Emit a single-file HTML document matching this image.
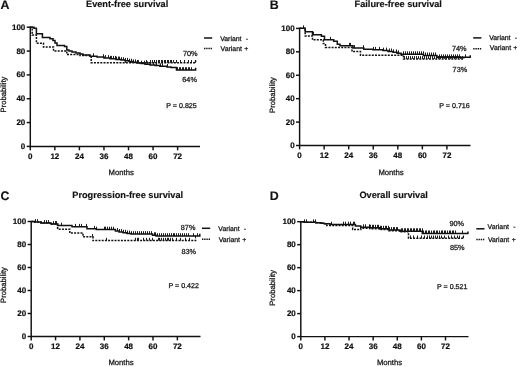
<!DOCTYPE html>
<html><head><meta charset="utf-8"><style>
html,body{margin:0;padding:0;background:#fff;overflow:hidden;width:520px;height:367px;}
svg{display:block;filter:grayscale(1);}
text{font-family:"Liberation Sans", sans-serif;fill:#111;text-rendering:geometricPrecision;}
.tk{font-weight:bold;font-size:8px;stroke:#111;stroke-width:0.2px;}
.let{font-weight:bold;font-size:12.4px;stroke:#111;stroke-width:0.15px;}
.ti{font-weight:bold;font-size:9.2px;stroke:#111;stroke-width:0.15px;}
.lb{font-size:7.7px;fill:#1a1a1a;stroke:#1a1a1a;stroke-width:0.28px;}
.lg{font-size:6.9px;fill:#1a1a1a;stroke:#1a1a1a;stroke-width:0.28px;}
.pv{font-size:7.1px;}
.pc{font-size:7.3px;}
.ax{stroke:#111;stroke-width:1.45;fill:none;}
.cs{stroke:#111;stroke-width:1.5;fill:none;}
.cd{stroke:#111;stroke-width:1.5;fill:none;stroke-dasharray:2 1.2;}
.cd2{stroke:#111;stroke-width:1.4;fill:none;stroke-dasharray:1.4 0.8;}
.tick{stroke:#111;stroke-width:0.95;fill:none;}
</style></head><body>
<svg width="520" height="367" viewBox="0 0 520 367">
<rect width="520" height="367" fill="#fff"/>
<path d="M30.3 26.6V146.4H200" class="ax"/>
<path d="M26.7 146.4H30.3" class="ax"/>
<text x="25.3" y="148.9" class="tk" text-anchor="end">0</text>
<path d="M26.7 122.56H30.3" class="ax"/>
<text x="25.3" y="125.06" class="tk" text-anchor="end">20</text>
<path d="M26.7 98.72H30.3" class="ax"/>
<text x="25.3" y="101.22" class="tk" text-anchor="end">40</text>
<path d="M26.7 74.88H30.3" class="ax"/>
<text x="25.3" y="77.38" class="tk" text-anchor="end">60</text>
<path d="M26.7 51.04H30.3" class="ax"/>
<text x="25.3" y="53.54" class="tk" text-anchor="end">80</text>
<path d="M26.7 27.2H30.3" class="ax"/>
<text x="25.3" y="29.7" class="tk" text-anchor="end">100</text>
<path d="M30.3 146.4V150.3" class="ax"/>
<text x="30.3" y="158.7" class="tk" text-anchor="middle">0</text>
<path d="M54.85 146.4V150.3" class="ax"/>
<text x="54.85" y="158.7" class="tk" text-anchor="middle">12</text>
<path d="M79.4 146.4V150.3" class="ax"/>
<text x="79.4" y="158.7" class="tk" text-anchor="middle">24</text>
<path d="M103.96 146.4V150.3" class="ax"/>
<text x="103.96" y="158.7" class="tk" text-anchor="middle">36</text>
<path d="M128.51 146.4V150.3" class="ax"/>
<text x="128.51" y="158.7" class="tk" text-anchor="middle">48</text>
<path d="M153.06 146.4V150.3" class="ax"/>
<text x="153.06" y="158.7" class="tk" text-anchor="middle">60</text>
<path d="M177.61 146.4V150.3" class="ax"/>
<text x="177.61" y="158.7" class="tk" text-anchor="middle">72</text>
<text x="0.5" y="8.8" class="let">A</text>
<text x="86" y="6.9" class="ti">Event-free survival</text>
<text x="108.6" y="175" class="lb">Months</text>
<text transform="translate(6 112.5) rotate(-90)" x="0" y="0" class="lb">Probability</text>
<path d="M204 38h8.2" class="cs"/>
<path d="M204 48.5h8.2" class="cd2"/>
<text x="220.2" y="40.8" class="lg">Variant</text>
<text x="220.6" y="50.9" class="lg">Variant</text>
<text x="247" y="40.8" class="lg" text-anchor="middle">-</text>
<text x="246.3" y="50.9" class="lg" text-anchor="middle">+</text>
<text x="166.3" y="107.7" class="lg pv">P = 0.825</text>
<text x="182.9" y="55.9" class="lg pc">70%</text>
<text x="182.3" y="82" class="lg pc">64%</text>
<path d="M30.3 27.2 34 27.2 34 28.2 36.4 28.2 36.4 33.7 42.4 33.7 42.4 37.6 50 37.6 50 38.8 53 38.8 53 40.5 55 40.5 55 43 57 43 57 45.5 64.5 45.5 64.5 46.5 66.8 46.5 66.8 50 69 50 69 51 72 51 72 52 76 52 76 53 80 53 80 54 83 54 83 55 90 55 90 56.2 97 56.2 97 57.1 104 57.1 104 58 110 58 110 58.8 116 58.8 116 59.5 121 59.5 121 60.1 125 60.1 125 60.8 129 60.8 129 61.6 133 61.6 133 62.3 137 62.3 137 63 141 63 141 63.6 145 63.6 145 64.3 150 64.3 150 65 155 65 155 65.6 160 65.6 160 66.2 167 66.2 167 66.9 171 66.9 171 67.6 176.5 67.6 176.5 70.1 195.6 70.1 195.6 67.8" class="cs"/>
<path d="M30.3 27.2 32.2 27.2 32.2 35 36.4 35 36.4 43.2 43.5 43.2 43.5 47 53.5 47 53.5 51 66.8 51 66.8 54.5 80 54.5 80 55.5 91.2 55.5 91.2 62.8 195.6 62.8 195.6 60.6" class="cd"/>
<path d="M93.5 56.2v-2.9M103.5 57.1v-2.9M105.5 58v-2.9M108.5 58v-2.9M110.5 58.8v-2.9M111.5 58.8v-2.9M113.5 58.8v-2.9M115.5 58.8v-2.9M116.5 59.5v-2.9M118.5 59.5v-2.9M119.5 59.5v-2.9M121.5 60.1v-2.9M123.5 60.1v-2.9M125.5 60.8v-2.9M127.5 60.8v-2.9M129.5 61.6v-2.9M131.5 61.6v-2.9M133.5 62.3v-2.9M135.5 62.3v-2.9M138.5 63v-2.9M141.5 63.6v-2.9M144.5 63.6v-2.9M147.5 64.3v-2.9M150.5 65v-2.9M153.5 65v-2.9M156.5 65.6v-2.9M160.5 66.2v-2.9M162.5 66.2v-2.9M167.5 66.9v-2.9M177.5 70.1v-2.9M179.5 70.1v-2.9M180.5 70.1v-2.9M182.5 70.1v-2.9M183.5 70.1v-2.9M185.5 70.1v-2.9M186.5 70.1v-2.9M188.5 70.1v-2.9M189.5 70.1v-2.9M191.5 70.1v-2.9" class="tick"/>
<path d="M125.5 62.8v-2.8M131.5 62.8v-2.8M137.5 62.8v-2.8M146.5 62.8v-2.8M150.5 62.8v-2.8M152.5 62.8v-2.8M154.5 62.8v-2.8M156.5 62.8v-2.8M158.5 62.8v-2.8M159.5 62.8v-2.8M161.5 62.8v-2.8M162.5 62.8v-2.8M164.5 62.8v-2.8M165.5 62.8v-2.8M167.5 62.8v-2.8M168.5 62.8v-2.8M170.5 62.8v-2.8M171.5 62.8v-2.8M173.5 62.8v-2.8M176.5 62.8v-2.8M180.5 62.8v-2.8M184.5 62.8v-2.8M188.5 62.8v-2.8M191.5 62.8v-2.8M195.5 62.8v-2.8" class="tick"/>
<path d="M299.6 27.8V145.5H470.5" class="ax"/>
<path d="M296 145.5H299.6" class="ax"/>
<text x="294.6" y="148" class="tk" text-anchor="end">0</text>
<path d="M296 122.08H299.6" class="ax"/>
<text x="294.6" y="124.58" class="tk" text-anchor="end">20</text>
<path d="M296 98.66H299.6" class="ax"/>
<text x="294.6" y="101.16" class="tk" text-anchor="end">40</text>
<path d="M296 75.24H299.6" class="ax"/>
<text x="294.6" y="77.74" class="tk" text-anchor="end">60</text>
<path d="M296 51.82H299.6" class="ax"/>
<text x="294.6" y="54.32" class="tk" text-anchor="end">80</text>
<path d="M296 28.4H299.6" class="ax"/>
<text x="294.6" y="30.9" class="tk" text-anchor="end">100</text>
<path d="M299.6 145.5V149.4" class="ax"/>
<text x="299.6" y="157.8" class="tk" text-anchor="middle">0</text>
<path d="M324.15 145.5V149.4" class="ax"/>
<text x="324.15" y="157.8" class="tk" text-anchor="middle">12</text>
<path d="M348.7 145.5V149.4" class="ax"/>
<text x="348.7" y="157.8" class="tk" text-anchor="middle">24</text>
<path d="M373.26 145.5V149.4" class="ax"/>
<text x="373.26" y="157.8" class="tk" text-anchor="middle">36</text>
<path d="M397.81 145.5V149.4" class="ax"/>
<text x="397.81" y="157.8" class="tk" text-anchor="middle">48</text>
<path d="M422.36 145.5V149.4" class="ax"/>
<text x="422.36" y="157.8" class="tk" text-anchor="middle">60</text>
<path d="M446.91 145.5V149.4" class="ax"/>
<text x="446.91" y="157.8" class="tk" text-anchor="middle">72</text>
<text x="269.8" y="8.8" class="let">B</text>
<text x="354.6" y="7" class="ti">Failure-free survival</text>
<text x="378.4" y="174.8" class="lb">Months</text>
<text transform="translate(275.2 113) rotate(-90)" x="0" y="0" class="lb">Probability</text>
<path d="M473.2 37.9h8.2" class="cs"/>
<path d="M473.2 48.7h8.2" class="cd2"/>
<text x="489.2" y="39.8" class="lg">Variant</text>
<text x="489.8" y="50.4" class="lg">Variant</text>
<text x="516" y="39.8" class="lg" text-anchor="middle">-</text>
<text x="515.3" y="50.4" class="lg" text-anchor="middle">+</text>
<text x="439.3" y="107.5" class="lg pv">P = 0.716</text>
<text x="451.9" y="50.6" class="lg pc">74%</text>
<text x="452.6" y="71.8" class="lg pc">73%</text>
<path d="M299.6 28.2 305.2 28.2 305.2 31.7 312.5 31.7 312.5 34.8 321.4 34.8 321.4 36.3 324.5 36.3 324.5 39.8 333.7 39.8 333.7 41.3 337.3 41.3 337.3 44.2 340 44.2 340 45.8 353 45.8 353 48 363.8 48 363.8 49.2 373 49.2 373 49.8 383 49.8 383 50.5 388 50.5 388 51.4 393 51.4 393 52.3 397 52.3 397 53.3 401 53.3 401 54.2 423.5 54.2 423.5 55.4 437 55.4 437 57.3 470.2 57.3 470.2 55.2" class="cs"/>
<path d="M299.6 28.2 305.2 28.2 305.2 35.9 312.5 35.9 312.5 39.8 323.3 39.8 323.3 43.6 325.5 43.6 325.5 47.4 352 47.4 352 51.5 360.5 51.5 360.5 55.2 403.5 55.2 403.5 58.9 463.8 58.9 463.8 57" class="cd"/>
<path d="M303.5 28.2v-2.9M313.5 34.8v-2.9M330.5 39.8v-2.9M349.5 45.8v-2.9M350.5 45.8v-2.9M354.5 48v-2.9M363.5 48v-2.9M373.5 49.8v-2.9M375.5 49.8v-2.9M379.5 49.8v-2.9M383.5 50.5v-2.9M386.5 50.5v-2.9M389.5 51.4v-2.9M391.5 51.4v-2.9M393.5 52.3v-2.9M396.5 52.3v-2.9M398.5 53.3v-2.9M403.5 54.2v-2.9M405.5 54.2v-2.9M407.5 54.2v-2.9M409.5 54.2v-2.9M411.5 54.2v-2.9M413.5 54.2v-2.9M415.5 54.2v-2.9M417.5 54.2v-2.9M419.5 54.2v-2.9M421.5 54.2v-2.9M423.5 54.2v-2.9M425.5 55.4v-2.9M427.5 55.4v-2.9M429.5 55.4v-2.9M431.5 55.4v-2.9M433.5 55.4v-2.9M435.5 55.4v-2.9M439.5 57.3v-2.9M441.5 57.3v-2.9M443.5 57.3v-2.9M445.5 57.3v-2.9M447.5 57.3v-2.9M449.5 57.3v-2.9M451.5 57.3v-2.9M453.5 57.3v-2.9M455.5 57.3v-2.9M457.5 57.3v-2.9M459.5 57.3v-2.9M465.5 57.3v-2.9" class="tick"/>
<path d="M404.5 58.9v-2.8M406.5 58.9v-2.8M408.5 58.9v-2.8M410.5 58.9v-2.8M412.5 58.9v-2.8M414.5 58.9v-2.8M416.5 58.9v-2.8M418.5 58.9v-2.8M420.5 58.9v-2.8M422.5 58.9v-2.8M424.5 58.9v-2.8M426.5 58.9v-2.8M428.5 58.9v-2.8M430.5 58.9v-2.8M432.5 58.9v-2.8M434.5 58.9v-2.8M436.5 58.9v-2.8M438.5 58.9v-2.8M440.5 58.9v-2.8M442.5 58.9v-2.8M444.5 58.9v-2.8M446.5 58.9v-2.8M448.5 58.9v-2.8M450.5 58.9v-2.8M452.5 58.9v-2.8M454.5 58.9v-2.8M456.5 58.9v-2.8M458.5 58.9v-2.8M460.5 58.9v-2.8M462.5 58.9v-2.8" class="tick"/>
<path d="M31.2 220.9V336.5H200.5" class="ax"/>
<path d="M27.6 336.5H31.2" class="ax"/>
<text x="26.2" y="339" class="tk" text-anchor="end">0</text>
<path d="M27.6 313.5H31.2" class="ax"/>
<text x="26.2" y="316" class="tk" text-anchor="end">20</text>
<path d="M27.6 290.5H31.2" class="ax"/>
<text x="26.2" y="293" class="tk" text-anchor="end">40</text>
<path d="M27.6 267.5H31.2" class="ax"/>
<text x="26.2" y="270" class="tk" text-anchor="end">60</text>
<path d="M27.6 244.5H31.2" class="ax"/>
<text x="26.2" y="247" class="tk" text-anchor="end">80</text>
<path d="M27.6 221.5H31.2" class="ax"/>
<text x="26.2" y="224" class="tk" text-anchor="end">100</text>
<path d="M31.2 336.5V340.4" class="ax"/>
<text x="31.2" y="348.8" class="tk" text-anchor="middle">0</text>
<path d="M55.56 336.5V340.4" class="ax"/>
<text x="55.56" y="348.8" class="tk" text-anchor="middle">12</text>
<path d="M79.92 336.5V340.4" class="ax"/>
<text x="79.92" y="348.8" class="tk" text-anchor="middle">24</text>
<path d="M104.28 336.5V340.4" class="ax"/>
<text x="104.28" y="348.8" class="tk" text-anchor="middle">36</text>
<path d="M128.64 336.5V340.4" class="ax"/>
<text x="128.64" y="348.8" class="tk" text-anchor="middle">48</text>
<path d="M153 336.5V340.4" class="ax"/>
<text x="153" y="348.8" class="tk" text-anchor="middle">60</text>
<path d="M177.36 336.5V340.4" class="ax"/>
<text x="177.36" y="348.8" class="tk" text-anchor="middle">72</text>
<text x="0.5" y="199.9" class="let">C</text>
<text x="72.3" y="197.7" class="ti">Progression-free survival</text>
<text x="108.4" y="364.6" class="lb">Months</text>
<text transform="translate(6 303) rotate(-90)" x="0" y="0" class="lb">Probability</text>
<path d="M202 228.3h8.2" class="cs"/>
<path d="M202 239.3h8.2" class="cd2"/>
<text x="218.3" y="230.7" class="lg">Variant</text>
<text x="218.7" y="241.6" class="lg">Variant</text>
<text x="245" y="230.7" class="lg" text-anchor="middle">-</text>
<text x="244.3" y="241.6" class="lg" text-anchor="middle">+</text>
<text x="168.5" y="288.4" class="lg pv">P = 0.422</text>
<text x="180.8" y="229.8" class="lg pc">87%</text>
<text x="181.4" y="254.4" class="lg pc">83%</text>
<path d="M31.2 221.5 34.5 221.5 34.5 222 41 222 41 223 51 223 51 224 57.6 224 57.6 225.6 72 225.6 72 226.8 87 226.8 87 228.8 96.3 228.8 96.3 229.6 115.4 229.6 115.4 231 119 231 119 231.9 123 231.9 123 232.7 127 232.7 127 233.4 131 233.4 131 234.1 152.5 234.1 152.5 235.2 156 235.2 156 236.1 199.8 236.1 199.8 233.8" class="cs"/>
<path d="M31.2 221.5 34.5 221.5 34.5 222 41 222 41 223 51 223 51 224 57.6 224 57.6 229.2 69.8 229.2 69.8 233 83 233 83 236.8 93 236.8 93 240.6 195.6 240.6 195.6 238.2" class="cd"/>
<path d="M35.5 222v-2.9M37.5 222v-2.9M44.5 223v-2.9M46.5 223v-2.9M48.5 223v-2.9M53.5 224v-2.9M55.5 224v-2.9M56.5 224v-2.9M61.5 225.6v-2.9M75.5 226.8v-2.9M79.5 226.8v-2.9M81.5 226.8v-2.9M86.5 226.8v-2.9M94.5 228.8v-2.9M96.5 229.6v-2.9M104.5 229.6v-2.9M105.5 229.6v-2.9M107.5 229.6v-2.9M109.5 229.6v-2.9M111.5 229.6v-2.9M113.5 229.6v-2.9M117.5 231v-2.9M119.5 231.9v-2.9M121.5 231.9v-2.9M123.5 232.7v-2.9M125.5 232.7v-2.9M127.5 233.4v-2.9M129.5 233.4v-2.9M131.5 234.1v-2.9M133.5 234.1v-2.9M135.5 234.1v-2.9M137.5 234.1v-2.9M139.5 234.1v-2.9M141.5 234.1v-2.9M143.5 234.1v-2.9M145.5 234.1v-2.9M147.5 234.1v-2.9M149.5 234.1v-2.9M151.5 234.1v-2.9M154.5 235.2v-2.9M155.5 235.2v-2.9M157.5 236.1v-2.9M159.5 236.1v-2.9M161.5 236.1v-2.9M163.5 236.1v-2.9M165.5 236.1v-2.9M167.5 236.1v-2.9M169.5 236.1v-2.9M171.5 236.1v-2.9M173.5 236.1v-2.9M174.5 236.1v-2.9M176.5 236.1v-2.9M178.5 236.1v-2.9M180.5 236.1v-2.9M182.5 236.1v-2.9M184.5 236.1v-2.9M186.5 236.1v-2.9M188.5 236.1v-2.9M193.5 236.1v-2.9M197.5 236.1v-2.9" class="tick"/>
<path d="M92.5 236.8v-2.8M106.5 240.6v-2.8M135.5 240.6v-2.8M137.5 240.6v-2.8M138.5 240.6v-2.8M143.5 240.6v-2.8M146.5 240.6v-2.8M149.5 240.6v-2.8M152.5 240.6v-2.8M158.5 240.6v-2.8M159.5 240.6v-2.8M161.5 240.6v-2.8M163.5 240.6v-2.8M165.5 240.6v-2.8M167.5 240.6v-2.8M168.5 240.6v-2.8M170.5 240.6v-2.8M172.5 240.6v-2.8M176.5 240.6v-2.8M180.5 240.6v-2.8M185.5 240.6v-2.8M189.5 240.6v-2.8M195.5 238.2v-2.8" class="tick"/>
<path d="M300.8 221.1V336.6H468.5" class="ax"/>
<path d="M297.2 336.6H300.8" class="ax"/>
<text x="295.8" y="339.1" class="tk" text-anchor="end">0</text>
<path d="M297.2 313.62H300.8" class="ax"/>
<text x="295.8" y="316.12" class="tk" text-anchor="end">20</text>
<path d="M297.2 290.64H300.8" class="ax"/>
<text x="295.8" y="293.14" class="tk" text-anchor="end">40</text>
<path d="M297.2 267.66H300.8" class="ax"/>
<text x="295.8" y="270.16" class="tk" text-anchor="end">60</text>
<path d="M297.2 244.68H300.8" class="ax"/>
<text x="295.8" y="247.18" class="tk" text-anchor="end">80</text>
<path d="M297.2 221.7H300.8" class="ax"/>
<text x="295.8" y="224.2" class="tk" text-anchor="end">100</text>
<path d="M300.8 336.6V340.5" class="ax"/>
<text x="300.8" y="348.9" class="tk" text-anchor="middle">0</text>
<path d="M324.92 336.6V340.5" class="ax"/>
<text x="324.92" y="348.9" class="tk" text-anchor="middle">12</text>
<path d="M349.04 336.6V340.5" class="ax"/>
<text x="349.04" y="348.9" class="tk" text-anchor="middle">24</text>
<path d="M373.16 336.6V340.5" class="ax"/>
<text x="373.16" y="348.9" class="tk" text-anchor="middle">36</text>
<path d="M397.28 336.6V340.5" class="ax"/>
<text x="397.28" y="348.9" class="tk" text-anchor="middle">48</text>
<path d="M421.4 336.6V340.5" class="ax"/>
<text x="421.4" y="348.9" class="tk" text-anchor="middle">60</text>
<path d="M445.52 336.6V340.5" class="ax"/>
<text x="445.52" y="348.9" class="tk" text-anchor="middle">72</text>
<text x="269.7" y="199.7" class="let">D</text>
<text x="359.4" y="198.3" class="ti">Overall survival</text>
<text x="376.9" y="364.8" class="lb">Months</text>
<text transform="translate(275.2 305.8) rotate(-90)" x="0" y="0" class="lb">Probability</text>
<path d="M476.3 228.8h8.2" class="cs"/>
<path d="M476.3 239.5h8.2" class="cd2"/>
<text x="487.6" y="228.6" class="lg">Variant</text>
<text x="487.9" y="241.9" class="lg">Variant</text>
<text x="514.5" y="228.6" class="lg" text-anchor="middle">-</text>
<text x="513.8" y="241.9" class="lg" text-anchor="middle">+</text>
<text x="437" y="288.5" class="lg pv">P = 0.521</text>
<text x="449.5" y="226" class="lg pc">90%</text>
<text x="450" y="249.7" class="lg pc">85%</text>
<path d="M300.8 221.8 304.2 221.8 304.2 222.3 315.7 222.3 315.7 222.8 321 222.8 321 223.3 324.2 223.3 324.2 223.8 330 223.8 330 224.6 355.4 224.6 355.4 226.1 360.8 226.1 360.8 227.2 370 227.2 370 227.7 380 227.7 380 228.7 389 228.7 389 230 400 230 400 231.2 422.3 231.2 422.3 233.4 467.9 233.4 467.9 231.4" class="cs"/>
<path d="M300.8 221.8 304.2 221.8 304.2 222.3 315.7 222.3 315.7 222.8 321 222.8 321 223.3 324.2 223.3 324.2 223.8 326.8 223.8 326.8 225.6 352.7 225.6 352.7 229.4 360.8 229.4 360.8 228.2 370 228.2 370 228.7 380 228.7 380 229.5 389 229.5 389 230.8 400 230.8 400 231.8 408.5 231.8 408.5 238.3 463.3 238.3 463.3 236.3" class="cd"/>
<path d="M304.5 222.3v-2.9M306.5 222.3v-2.9M313.5 222.3v-2.9M315.5 222.3v-2.9M331.5 224.6v-2.9M343.5 224.6v-2.9M345.5 224.6v-2.9M348.5 224.6v-2.9M350.5 224.6v-2.9M353.5 224.6v-2.9M354.5 224.6v-2.9M363.5 227.2v-2.9M365.5 227.2v-2.9M369.5 227.2v-2.9M370.5 227.7v-2.9M372.5 227.7v-2.9M373.5 227.7v-2.9M375.5 227.7v-2.9M377.5 227.7v-2.9M378.5 227.7v-2.9M380.5 228.7v-2.9M381.5 228.7v-2.9M383.5 228.7v-2.9M385.5 228.7v-2.9M386.5 228.7v-2.9M388.5 228.7v-2.9M389.5 230v-2.9M391.5 230v-2.9M393.5 230v-2.9M394.5 230v-2.9M396.5 230v-2.9M397.5 230v-2.9M401.5 231.2v-2.9M402.5 231.2v-2.9M404.5 231.2v-2.9M405.5 231.2v-2.9M407.5 231.2v-2.9M408.5 231.2v-2.9M410.5 231.2v-2.9M411.5 231.2v-2.9M413.5 231.2v-2.9M414.5 231.2v-2.9M416.5 231.2v-2.9M417.5 231.2v-2.9M419.5 231.2v-2.9M420.5 231.2v-2.9M422.5 231.2v-2.9M423.5 233.4v-2.9M425.5 233.4v-2.9M426.5 233.4v-2.9M428.5 233.4v-2.9M429.5 233.4v-2.9M431.5 233.4v-2.9M433.5 233.4v-2.9M434.5 233.4v-2.9M436.5 233.4v-2.9M437.5 233.4v-2.9M439.5 233.4v-2.9M441.5 233.4v-2.9M442.5 233.4v-2.9M444.5 233.4v-2.9M445.5 233.4v-2.9M447.5 233.4v-2.9M449.5 233.4v-2.9M450.5 233.4v-2.9M452.5 233.4v-2.9M453.5 233.4v-2.9M455.5 233.4v-2.9M462.5 233.4v-2.9" class="tick"/>
<path d="M410.5 238.3v-2.8M413.5 238.3v-2.8M417.5 238.3v-2.8M421.5 238.3v-2.8M424.5 238.3v-2.8M427.5 238.3v-2.8M429.5 238.3v-2.8M431.5 238.3v-2.8M433.5 238.3v-2.8M435.5 238.3v-2.8M437.5 238.3v-2.8M439.5 238.3v-2.8M441.5 238.3v-2.8M444.5 238.3v-2.8M448.5 238.3v-2.8M451.5 238.3v-2.8M454.5 238.3v-2.8M457.5 238.3v-2.8M459.5 238.3v-2.8M463.5 238.3v-2.8" class="tick"/>
</svg>
</body></html>
